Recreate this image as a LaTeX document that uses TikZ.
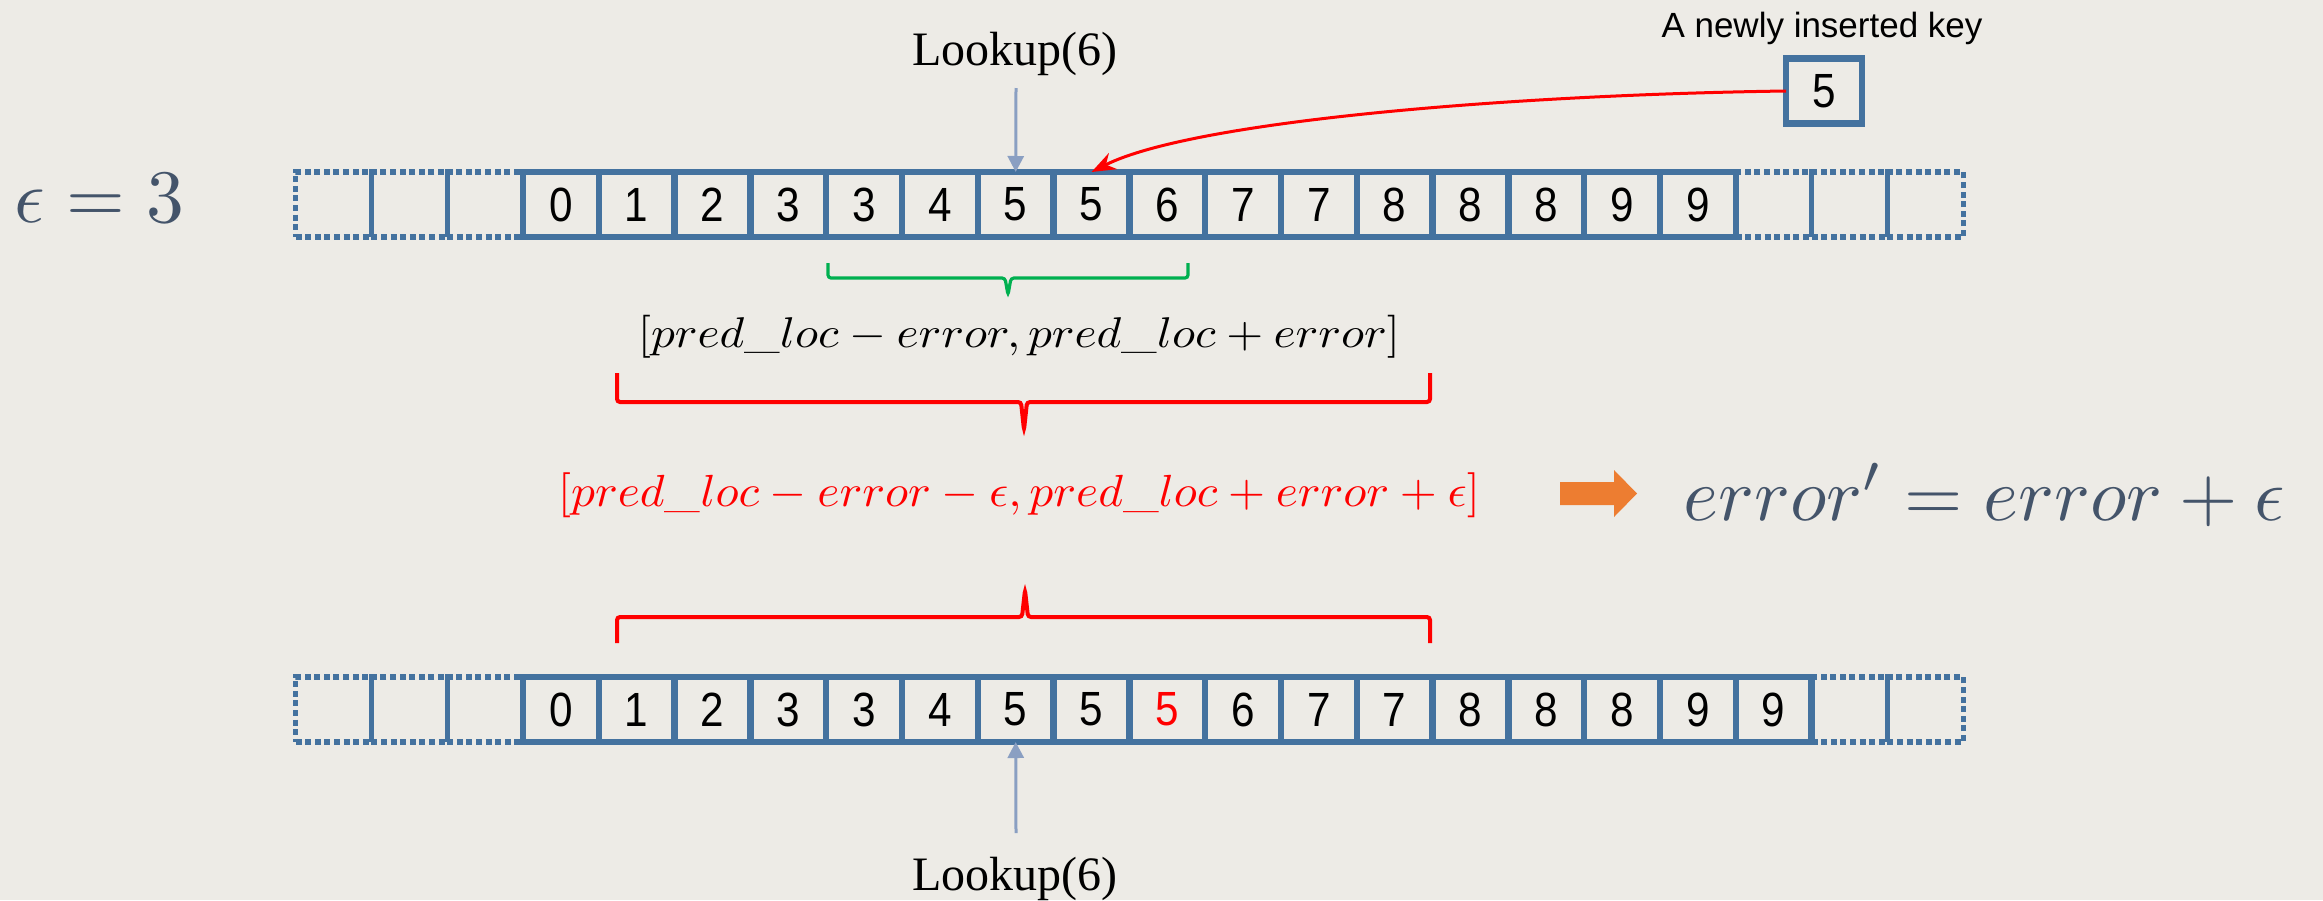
\documentclass[tikz,border=0pt]{standalone}
\usepackage{fontspec}
\usepackage{graphicx}
\usetikzlibrary{arrows.meta}
\newfontfamily\cellfont[FakeStretch=0.88]{Liberation Sans}
\newfontfamily\capfont{Liberation Sans}
\newfontfamily\lkfont{Liberation Serif}
\definecolor{paper}{HTML}{EDEBE6}
\definecolor{cellblue}{HTML}{44729F}
\definecolor{slate}{HTML}{44546A}
\definecolor{lookblue}{HTML}{8A9FC2}
\definecolor{keyred}{HTML}{FF0000}
\definecolor{bracegreen}{HTML}{00B050}
\definecolor{hintorange}{HTML}{ED7D31}
\begin{document}
\begin{tikzpicture}[x=0.5pt,y=-0.5pt,
  cell/.style={draw=cellblue, line width=3.25pt, minimum width=37.9pt,
    minimum height=32.5pt, inner sep=0pt, outer sep=0pt,
    font=\cellfont\fontsize{24}{24}\selectfont},
  spare/.style={draw=cellblue, line width=2.6pt, dash pattern=on 3pt off 1.8pt,
    minimum width=37.9pt, minimum height=32.5pt, inner sep=0pt, outer sep=0pt},
  lookarrow/.style={draw=lookblue, line width=1.5pt,
    -{Triangle[length=8pt,width=8pt]}},
  insarrow/.style={draw=keyred, line width=1.5pt,
    -{Stealth[length=12pt,width=9pt]}},
  bracepath/.style={line width=2pt, rounded corners=1.5pt},
  lookfont/.style={font=\lkfont\fontsize{24}{24}\selectfont, inner sep=0pt}]

% paper background
\fill[paper] (0,0) rectangle (2323,900);
\useasboundingbox (0,0) rectangle (2323,900);

% ---------------- upper array ----------------
\foreach \i in {1,2,3} {
  \node[spare] (tl\i) at ({523-75.8*(\i-0.5)},204.5) {};
  \node[spare] (tr\i) at ({1735.8+75.8*(\i-0.5)},204.5) {};
}
\foreach \v [count=\i from 0] in {0,1,2,3,3,4,5,5,6,7,7,8,8,8,9,9}
  \node[cell] (t\i) at ({523+75.8*(\i+0.5)},204.5) {\v};

% ---------------- lower array ----------------
\foreach \i in {1,2,3}
  \node[spare] (bl\i) at ({523-75.8*(\i-0.5)},709.5) {};
\foreach \i in {1,2}
  \node[spare] (br\i) at ({1811.6+75.8*(\i-0.5)},709.5) {};
\foreach \v [count=\i from 0] in {0,1,2,3,3,4,5,5,{\textcolor{keyred}{5}},6,7,7,8,8,8,9,9}
  \node[cell] (b\i) at ({523+75.8*(\i+0.5)},709.5) {\v};

% ---------------- epsilon ----------------
\node[anchor=base, inner sep=0pt, text=slate] (eps) at (99.5,222)
  {\resizebox{84.5pt}{!}{$\epsilon = 3$}};

% ---------------- inserted key ----------------
\node[anchor=base, inner sep=0pt, font=\capfont\fontsize{17.5}{18}\selectfont]
  (cap) at (1822,37) {A newly inserted key};
\node[cell] (key) at (1824,91) {5};
\draw[insarrow] (key.west) .. controls (1500,95) and (1190,122) .. (t7.north);

% ---------------- lookups ----------------
\node[lookfont, anchor=base] (lk1) at (1015,65) {Lookup(6)};
\coordinate (lk1s) at (1016,88);
\draw[lookarrow] (lk1s) -- (t6.north);

\node[lookfont, anchor=base] (lk2) at (1015,890) {Lookup(6)};
\coordinate (lk2s) at (1016,833);
\draw[lookarrow] (lk2s) -- (b6.south);

% ---------------- braces ----------------
\draw[bracegreen, bracepath, line width=1.6pt]
  (828,263) -- (828,278) -- (1005,278) -- (1008,295) -- (1011,278)
  -- (1188,278) -- (1188,263);
\draw[keyred, bracepath]
  (617,373) -- (617,402) -- (1021,402) -- (1024,430) -- (1027,402)
  -- (1430,402) -- (1430,373);
\draw[keyred, bracepath]
  (617,643) -- (617,617) -- (1022,617) -- (1025,590) -- (1028,617)
  -- (1430,617) -- (1430,643);

% ---------------- ranges ----------------
\node[inner sep=0pt] (rng) at (1019,337)
  {\resizebox*{381pt}{21.5pt}{$[pred\_loc - error, pred\_loc + error]$}};
\node[inner sep=0pt, text=keyred] (rngw) at (1019,495.5)
  {\resizebox*{461pt}{22.5pt}{$[pred\_loc - error - \epsilon, pred\_loc + error + \epsilon]$}};

% ---------------- conclusion ----------------
\fill[hintorange] (1560,482) -- (1614,482) -- (1614,470) -- (1637,493.5)
  -- (1614,517) -- (1614,505) -- (1560,505) -- cycle;
\node[anchor=base, inner sep=0pt, text=slate] (res) at (1984.5,520)
  {\resizebox{300.5pt}{!}{$error' = error + \epsilon$}};
\end{tikzpicture}
\end{document}
